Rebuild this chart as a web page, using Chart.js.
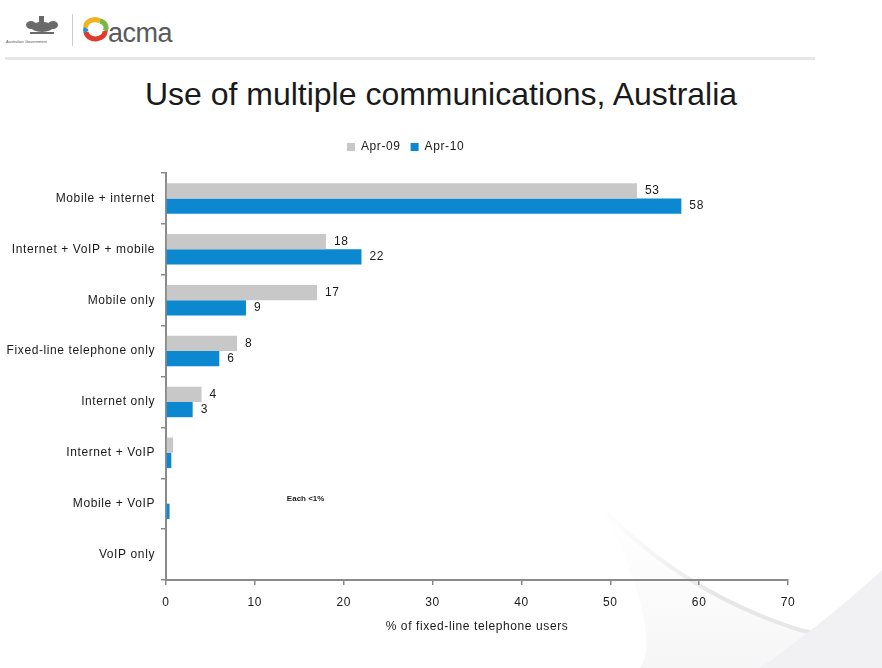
<!DOCTYPE html>
<html>
<head>
<meta charset="utf-8">
<script src="https://cdn.jsdelivr.net/npm/chart.js@4/dist/chart.umd.min.js"></script>
<style>
  html, body { margin:0; padding:0; background:#fff; }
  body { width:882px; height:668px; position:relative; overflow:hidden; font-family:"Liberation Sans", Arial, sans-serif; }
  #bg { position:absolute; left:0; top:0; }
  #wrap { position:absolute; left:0; top:0; width:882px; height:668px; }
  #title { position:absolute; left:0; width:882px; top:78px; text-align:center; font-size:32px; line-height:32px; color:#1a1a1a; }
  #hline { position:absolute; left:5px; top:57px; width:810px; height:3px; background:#e6e6e6; }
  #acma { position:absolute; left:108px; top:20px; font-size:27px; line-height:27px; color:#5a5a5a; letter-spacing:-0.5px; }
  #govt { position:absolute; left:6px; top:40px; font-size:4px; line-height:4px; color:#555; }
  #sep { position:absolute; left:72px; top:14px; width:1px; height:32px; background:#ccc; }
</style>
</head>
<body>
<svg id="bg" width="882" height="668">
  <defs>
    <linearGradient id="g1" x1="0" y1="0" x2="1" y2="0">
      <stop offset="0" stop-color="#eeeeef" stop-opacity="0"/>
      <stop offset="0.4" stop-color="#e6e6e8" stop-opacity="1"/>
      <stop offset="1" stop-color="#e8e8ea" stop-opacity="1"/>
    </linearGradient>
    <linearGradient id="g2" x1="0" y1="0" x2="0" y2="1">
      <stop offset="0" stop-color="#f7f7f8" stop-opacity="0"/>
      <stop offset="1" stop-color="#f2f2f4" stop-opacity="1"/>
    </linearGradient>
  </defs>
  <path d="M600 505 C 650 560, 720 605, 800 630 C 830 638, 860 640, 882 640 L 882 668 L 640 668 C 660 640, 630 560, 600 505 Z" fill="url(#g2)" opacity="0.7"/>
  <path d="M600 505 C 650 560, 720 605, 800 630 C 830 638, 860 640, 882 640" stroke="url(#g1)" stroke-width="4" fill="none"/>
  <path d="M760 668 C 800 640, 850 600, 882 570 L 882 668 Z" fill="#f1f1f3"/>
  <g fill="#6a6a6a">
    <ellipse cx="42" cy="27" rx="11" ry="5"/>
    <rect x="39" y="16" width="5" height="9"/>
    <ellipse cx="31" cy="25" rx="5" ry="4"/>
    <ellipse cx="53" cy="25" rx="5" ry="4"/>
    <rect x="30" y="32" width="24" height="2"/>
  </g>
  <g fill="none" stroke-width="5">
    <path d="M86 28 A 9 7 0 0 1 100 21" stroke="#f2b21c"/>
    <path d="M100 21 A 9 7 0 0 1 105 31" stroke="#7ab648"/>
    <path d="M105 31 A 9 7 0 0 1 86 32" stroke="#e03a2f"/>
    <path d="M86 32 A 9 7 0 0 1 86 28" stroke="#2a8fd0"/>
  </g>
</svg>
<div id="sep"></div>
<div id="govt">Australian Government</div>
<div id="acma">acma</div>
<div id="hline"></div>
<div id="title">Use of multiple communications, Australia</div>
<div id="wrap"><canvas id="c" width="882" height="668"></canvas></div>
<script>
const categories = ["Mobile + internet", "Internet + VoIP + mobile", "Mobile only", "Fixed-line telephone only", "Internet only", "Internet + VoIP", "Mobile + VoIP", "VoIP only"];
const seriesNames = ["Apr-09", "Apr-10"];
const apr09 = [53, 18, 17, 8, 4, 0.8, 0, 0];
const apr10 = [58, 22, 9, 6, 3, 0.6, 0.4, 0];
const labels09 = ["53", "18", "17", "8", "4", "", "", ""];
const labels10 = ["58", "22", "9", "6", "3", "", "", ""];
const xTicks = [0, 10, 20, 30, 40, 50, 60, 70];
const axisTitle = "% of fixed-line telephone users";
const noteText = "Each <1%";

const FONT = "'Liberation Sans', Arial, sans-serif";
const GRAY = "#c8c8c8";
const BLUE = "#0b88cf";
const AXIS = "#8a8a8a";

const spacing = {
  id: 'spacing',
  beforeDraw(chart) {
    if ('letterSpacing' in chart.ctx) chart.ctx.letterSpacing = '0.6px';
  }
};

const legendShift = {
  id: 'legendShift',
  afterInit(chart) {
    const lg = chart.legend;
    if (lg && !lg._patched) {
      const orig = lg.fit.bind(lg);
      lg.fit = function () { orig(); this.height += 10; };
      lg._patched = true;
    }
  },
  afterLayout(chart) {
    const lg = chart.legend;
    if (lg) { lg.left = 16; lg.width = lg.right - lg.left; }
  }
};

const valueLabels = {
  id: 'valueLabels',
  afterDatasetsDraw(chart) {
    const ctx = chart.ctx;
    const lbls = [labels09, labels10];
    ctx.save();
    ctx.font = "12px " + FONT;
    ctx.fillStyle = "#1a1a1a";
    ctx.textBaseline = "middle";
    ctx.textAlign = "left";
    chart.data.datasets.forEach((ds, di) => {
      const meta = chart.getDatasetMeta(di);
      meta.data.forEach((bar, i) => {
        const t = lbls[di][i];
        if (t) ctx.fillText(t, bar.x + 8, bar.y);
      });
    });
    const xs = chart.scales.x, ys = chart.scales.y;
    if ('letterSpacing' in ctx) ctx.letterSpacing = '0px';
    ctx.font = "bold 8px " + FONT;
    ctx.fillStyle = "#222";
    ctx.fillText(noteText, xs.getPixelForValue(13.6), ys.getPixelForValue(6) - 5);
    ctx.restore();
  }
};

new Chart(document.getElementById('c'), {
  type: 'bar',
  data: {
    labels: categories,
    datasets: [
      { label: seriesNames[0], data: apr09, backgroundColor: GRAY, borderWidth: 0 },
      { label: seriesNames[1], data: apr10, backgroundColor: BLUE, borderWidth: 0 }
    ]
  },
  options: {
    indexAxis: 'y',
    responsive: false,
    animation: false,
    devicePixelRatio: 1,
    categoryPercentage: 0.6,
    barPercentage: 1.0,
    layout: { padding: { left: 0, right: 94, top: 131, bottom: 34 } },
    plugins: {
      tooltip: { enabled: false },
      legend: {
        position: 'top',
        labels: {
          boxWidth: 8, boxHeight: 8, padding: 10,
          color: "#1a1a1a",
          font: { family: FONT, size: 12 }
        }
      }
    },
    scales: {
      x: {
        min: 0, max: 70,
        afterBuildTicks(scale) { scale.ticks = xTicks.map(v => ({ value: v })); },
        afterFit(scale) { scale.height = 54; },
        grid: { drawOnChartArea: false, drawTicks: true, tickLength: 5, color: AXIS, lineWidth: 1.5 },
        border: { display: true, color: AXIS, width: 2 },
        ticks: { color: "#1a1a1a", padding: 10, font: { family: FONT, size: 12 } },
        title: { display: true, text: axisTitle, color: "#1a1a1a", padding: { top: 0, bottom: 0 }, font: { family: FONT, size: 12 } }
      },
      y: {
        afterFit(scale) { scale.width = 166; },
        grid: { drawOnChartArea: false, drawTicks: true, tickLength: 5, color: AXIS, lineWidth: 1.5, offset: true },
        border: { display: true, color: AXIS, width: 2 },
        ticks: { color: "#1a1a1a", padding: 6, font: { family: FONT, size: 12 } }
      }
    }
  },
  plugins: [spacing, valueLabels, legendShift]
});
</script>
</body>
</html>
